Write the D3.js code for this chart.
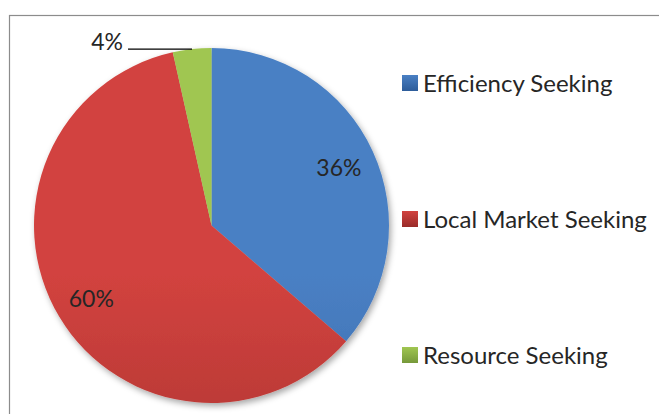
<!DOCTYPE html>
<html>
<head>
<meta charset="utf-8">
<script src="https://cdn.jsdelivr.net/npm/d3@7"></script>
<style>
  html, body { margin: 0; padding: 0; background: #fff; }
  svg { display: block; }
  text { font-family: Lato, "Open Sans", sans-serif; fill: #262626; }
</style>
</head>
<body>
<svg id="chart" width="659" height="414"></svg>
<script>
const categories = ["Efficiency Seeking", "Local Market Seeking", "Resource Seeking"];
const values = [36.3, 60.2, 3.5];
const labels = ["36%", "60%", "4%"];
const colorsTop = ["#4a80c4", "#d2433f", "#a0c651"];
const colorsBottom = ["#2d5c9a", "#992b29", "#76993a"];

const W = 659, H = 414;
const cx = 211.5, cy = 225.5, r = 177.5;

const svg = d3.select("#chart");
const defs = svg.append("defs");

// chart frame (top and left edges visible)
svg.append("rect")
  .attr("x", 9.5).attr("y", 15.5)
  .attr("width", 700).attr("height", 500)
  .attr("fill", "none").attr("stroke", "#8c8c8c").attr("stroke-width", 1.2);

const f = defs.append("filter").attr("id", "shadow")
  .attr("x", "-20%").attr("y", "-20%").attr("width", "140%").attr("height", "140%");
f.append("feDropShadow").attr("dx", 2).attr("dy", 3).attr("stdDeviation", 3)
  .attr("flood-color", "#000").attr("flood-opacity", 0.35);

categories.forEach((c, i) => {
  const g = defs.append("linearGradient").attr("id", "grad" + i)
    .attr("gradientUnits", "userSpaceOnUse")
    .attr("x1", 0).attr("x2", 0).attr("y1", cy - r).attr("y2", cy + r);
  g.append("stop").attr("offset", "0%").attr("stop-color", colorsTop[i]);
  g.append("stop").attr("offset", "100%").attr("stop-color", colorsBottom[i]);
  const lg = defs.append("linearGradient").attr("id", "lgrad" + i)
    .attr("x1", 0).attr("x2", 0).attr("y1", 0).attr("y2", 1);
  lg.append("stop").attr("offset", "0%").attr("stop-color", colorsTop[i]);
  lg.append("stop").attr("offset", "100%").attr("stop-color", colorsBottom[i]);
});

const pie = d3.pie().sort(null).value(d => d)(values);
const arc = d3.arc().innerRadius(0).outerRadius(r);
const labelArc = d3.arc().innerRadius(r * 0.79).outerRadius(r * 0.79);

const g = svg.append("g").attr("transform", `translate(${cx},${cy})`);
g.append("g").attr("filter", "url(#shadow)")
  .selectAll("path").data(pie).join("path")
  .attr("d", arc)
  .attr("fill", (d, i) => `url(#grad${i})`);

// inside labels
pie.forEach((d, i) => {
  if (i === 2) return;
  const [x, y] = labelArc.centroid(d);
  g.append("text").attr("x", x).attr("y", y)
    .attr("text-anchor", "middle").attr("dominant-baseline", "central")
    .attr("font-size", 23).text(labels[i]);
});

// outside label with leader line for small slice
{
  const d = pie[2];
  const a = (d.startAngle + d.endAngle) / 2;
  const ex = Math.sin(a) * r, ey = -Math.cos(a) * r;
  const lx = ex - 64;
  g.append("line").attr("x1", ex).attr("y1", ey).attr("x2", lx).attr("y2", ey)
    .attr("stroke", "#000").attr("stroke-width", 1.2);
  g.append("text").attr("x", lx - 5).attr("y", ey + 1)
    .attr("text-anchor", "end").attr("font-size", 23).text(labels[2]);
}

// legend
const legendY = d3.scalePoint().domain(categories).range([83, 355]);
const lg = svg.append("g");
categories.forEach((c, i) => {
  const y = legendY(c);
  lg.append("rect").attr("x", 402).attr("y", y - 8).attr("width", 16).attr("height", 16)
    .attr("fill", `url(#lgrad${i})`);
  lg.append("text").attr("x", 423).attr("y", y + 8.5)
    .attr("font-size", 24).text(c);
});
</script>
</body>
</html>
